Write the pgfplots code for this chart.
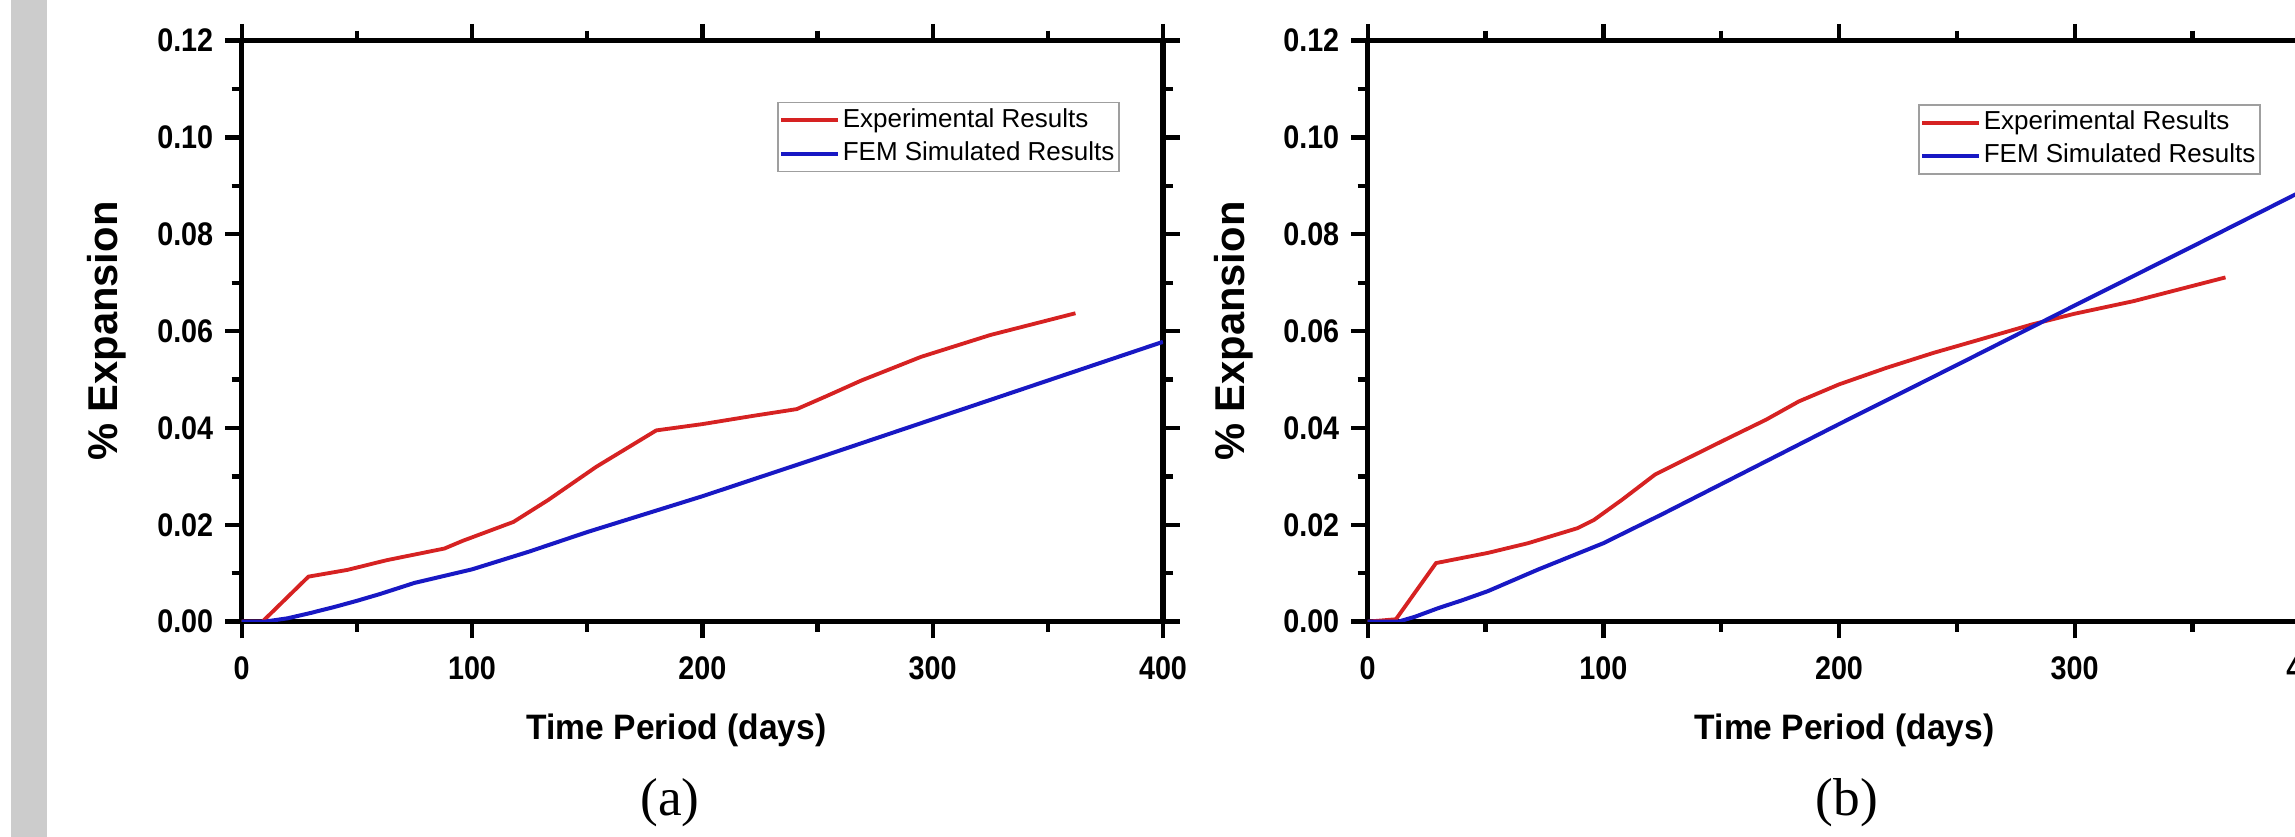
\documentclass[border=0pt]{standalone}
\usepackage{fontspec}
\setmainfont{Liberation Sans}
\newfontfamily\capfont{Liberation Serif}
\usepackage{graphicx}
\usepackage{pgfplots}
\usepackage{pgfplotstable}
\pgfplotsset{compat=1.18}
\definecolor{expred}{RGB}{214,34,34}
\definecolor{femblue}{RGB}{24,24,196}
\newcommand{\nr}[1]{\scalebox{0.88}[1]{#1}}

\pgfplotstableread{
x y
0 0
9 0
29 0.0093
46 0.0107
63 0.0127
88 0.0151
96 0.0167
118 0.0206
133 0.0251
154 0.0320
180 0.0395
200 0.0408
222 0.0425
241 0.0439
254 0.0466
269 0.0498
295 0.0547
325 0.0592
362 0.0637
}\expA
\pgfplotstableread{
x y
0 0
10 0
20 0.0007
30 0.0018
40 0.0030
50 0.0043
60 0.0057
75 0.0080
100 0.0108
125 0.0145
150 0.0185
175 0.0222
200 0.0259
250 0.0338
300 0.0418
350 0.0498
400 0.0578
}\femA
\pgfplotstableread{
x y
0 0
12 0.0005
29 0.0121
51 0.0142
68 0.0162
89 0.0193
96 0.0210
108 0.0252
122 0.0304
136 0.0338
153 0.0379
169 0.0417
183 0.0455
200 0.0490
220 0.0524
240 0.0555
260 0.0583
282 0.0614
300 0.0636
325 0.0662
364 0.0711
}\expB
\pgfplotstableread{
x y
0 0
13 0
20 0.0010
30 0.0028
40 0.0044
51 0.0063
72 0.0107
100 0.0162
125 0.0222
150 0.0284
175 0.0346
200 0.0408
250 0.0530
300 0.0653
350 0.0775
400 0.0898
}\femB

\pgfplotsset{
  panel/.style={
    anchor=south west,
    scale only axis,
    height=174.3pt,
    xmin=0, xmax=400, ymin=0, ymax=0.12,
    xtick={0,100,200,300,400},
    xticklabels={\nr{0},\nr{100},\nr{200},\nr{300},\nr{400}},
    ytick={0,0.02,0.04,0.06,0.08,0.10,0.12},
    yticklabels={\nr{0.00},\nr{0.02},\nr{0.04},\nr{0.06},\nr{0.08},\nr{0.10},\nr{0.12}},
    minor x tick num=1,
    minor y tick num=1,
    tick align=outside,
    major tick length=5pt,
    minor tick length=3pt,
    every tick/.style={black, line width=1.3pt},
    axis line style={line width=1.6pt},
    ticklabel style={font=\fontsize{9.8}{11}\selectfont\bfseries},
    xticklabel style={yshift=-2pt},
    xlabel={\scalebox{0.95}[1]{Time Period (days)}},
    ylabel={\% Expansion},
    xlabel style={font=\fontsize{10.6}{12}\selectfont\bfseries, anchor=base},
    ylabel style={font=\fontsize{12.5}{14}\selectfont\bfseries, anchor=center},
    legend cell align=left,
    legend image code/.code={\draw[##1] (0pt,0pt) -- (17pt,0pt);},
    legend style={draw=gray!75, line width=0.5pt, fill=white,
      font=\fontsize{7.8}{9}\selectfont, inner xsep=0.5pt, inner ysep=1pt,
      nodes={inner sep=0.8pt, text depth=0.15em}, row sep=1.2pt, anchor=north west},
  }
}

\begin{document}
\begin{tikzpicture}
\path[use as bounding box] (0pt,0pt) rectangle (688.5pt,251.1pt);
\clip (0pt,0pt) rectangle (688.5pt,251.1pt);
\fill[gray!40] (3.3pt,0pt) rectangle (14.1pt,251.1pt);

\begin{axis}[panel, at={(72.5pt,64.6pt)}, width=276.4pt,
  xlabel style={at={(axis description cs:0.472,-0.2036)}},
  ylabel style={at={(axis description cs:-0.146,0.5)}},
  legend style={at={(axis cs:232.4,0.1074)}}]
\addplot[expred, line width=1.15pt] table[x=x,y=y] {\expA};
\addlegendentry{Experimental Results}
\addplot[femblue, line width=1.2pt] table[x=x,y=y] {\femA};
\addlegendentry{FEM Simulated Results}
\end{axis}

\begin{axis}[panel, at={(410.3pt,64.6pt)}, width=282.8pt,
  xlabel style={at={(axis description cs:0.506,-0.2036)}},
  ylabel style={at={(axis description cs:-0.1418,0.5)}},
  legend style={at={(axis cs:233.5,0.1069)}}]
\addplot[expred, line width=1.15pt] table[x=x,y=y] {\expB};
\addlegendentry{Experimental Results}
\addplot[femblue, line width=1.2pt] table[x=x,y=y] {\femB};
\addlegendentry{FEM Simulated Results}
\end{axis}

\node[font=\capfont\fontsize{16}{18}\selectfont] at (201pt,10.2pt) {(a)};
\node[font=\capfont\fontsize{16}{18}\selectfont] at (554.1pt,10.2pt) {(b)};
\end{tikzpicture}
\end{document}
